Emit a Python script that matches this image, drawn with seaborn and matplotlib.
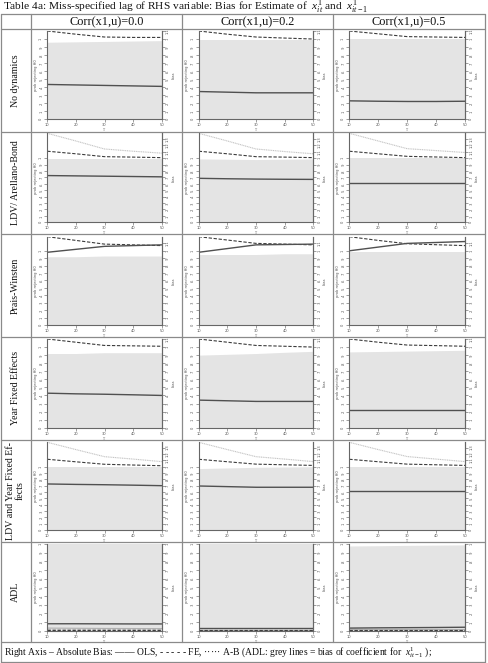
import matplotlib
matplotlib.use("Agg")
import matplotlib.pyplot as plt
import seaborn as sns
import numpy as np

sns.set_theme(style="white")
plt.rcParams['font.family'] = ['Liberation Serif', 'DejaVu Serif']
plt.rcParams['mathtext.fontset'] = 'custom'
plt.rcParams['mathtext.rm'] = 'Liberation Serif'
plt.rcParams['mathtext.it'] = 'Liberation Serif:italic'

# ---------------- data ----------------
T = [10, 20, 30, 40, 50]
col_labels = ["Corr(x1,u)=0.0", "Corr(x1,u)=0.2", "Corr(x1,u)=0.5"]
row_labels = ["No dynamics", "LDV/ Arellano-Bond", "Prais-Winsten",
              "Year Fixed Effects", "LDV and Year Fixed Ef-\nfects", "ADL"]

# left axis: prob rejecting H0 (grey area), one list per column
fill_nodyn = [[0.96, 0.965, 0.97, 0.975, 0.98], [0.99, 0.99, 0.99, 0.99, 0.99], [1.0, 1.0, 1.0, 1.0, 1.0]]
fill_ldv = [[0.99, 0.99, 0.99, 0.99, 0.99], [0.99, 0.985, 0.98, 0.985, 0.99], [1.0, 1.0, 1.0, 1.0, 1.0]]
fill_pw = [[0.92, 0.92, 0.93, 0.93, 0.93], [0.95, 0.95, 0.95, 0.96, 0.96], [0.99, 0.99, 0.99, 0.99, 0.99]]
fill_yfe = [[0.92, 0.92, 0.93, 0.93, 0.93], [0.90, 0.91, 0.92, 0.935, 0.947], [0.94, 0.945, 0.95, 0.955, 0.96]]
fill_ldvyfe = [[0.99, 0.99, 0.99, 0.99, 0.99], [0.97, 0.98, 0.99, 0.995, 1.0], [1.0, 1.0, 1.0, 1.0, 1.0]]
fill_adl = [[1.0, 1.0, 1.0, 1.0, 1.0], [1.0, 1.0, 1.0, 1.0, 1.0], [0.977, 0.98, 0.984, 0.987, 0.99]]

# right axis: absolute bias
ols_nodyn = [[0.434, 0.428, 0.422, 0.416, 0.41], [0.346, 0.338, 0.33, 0.33, 0.33], [0.23, 0.225, 0.222, 0.222, 0.225]]
fe_nodyn = [[1.10, 1.06, 1.025, 1.02, 1.02], [1.10, 1.06, 1.025, 1.012, 1.0], [1.10, 1.065, 1.03, 1.025, 1.02]]

ols_ldv = [[0.73, 0.725, 0.72, 0.715, 0.71], [0.687, 0.68, 0.675, 0.672, 0.67], [0.62, 0.62, 0.62, 0.62, 0.62]]
fe_ldv = [[1.11, 1.07, 1.025, 1.018, 1.01], [1.11, 1.07, 1.025, 1.018, 1.01], [1.11, 1.07, 1.03, 1.02, 1.01]]
ab_ldv = [[1.39, 1.27, 1.145, 1.11, 1.08], [1.39, 1.27, 1.145, 1.105, 1.07], [1.39, 1.27, 1.15, 1.12, 1.09]]

ols_pw = [[0.98, 1.02, 1.06, 1.07, 1.08], [0.98, 1.03, 1.08, 1.085, 1.09], [1.0, 1.05, 1.10, 1.112, 1.125]]
fe_pw = [[1.19, 1.14, 1.09, 1.08, 1.07], [1.19, 1.145, 1.10, 1.09, 1.08], [1.19, 1.14, 1.095, 1.082, 1.07]]

ols_yfe = [[0.428, 0.42, 0.415, 0.408, 0.40], [0.342, 0.334, 0.326, 0.326, 0.326], [0.215, 0.215, 0.215, 0.215, 0.215]]
fe_yfe = [[1.10, 1.06, 1.02, 1.015, 1.01], [1.10, 1.06, 1.02, 1.01, 1.0], [1.10, 1.06, 1.025, 1.018, 1.01]]

ols_ldvyfe = [[0.727, 0.72, 0.715, 0.708, 0.70], [0.695, 0.685, 0.675, 0.675, 0.675], [0.61, 0.61, 0.61, 0.61, 0.61]]
fe_ldvyfe = [[1.117, 1.077, 1.038, 1.026, 1.015], [1.117, 1.078, 1.04, 1.03, 1.02], [1.117, 1.078, 1.04, 1.03, 1.02]]
ab_ldvyfe = [[1.385, 1.27, 1.158, 1.12, 1.08], [1.385, 1.27, 1.158, 1.12, 1.08], [1.385, 1.27, 1.16, 1.12, 1.08]]

ols_adl = [[0.08, 0.08, 0.079, 0.078, 0.078], [0.03, 0.03, 0.03, 0.03, 0.03], [0.03, 0.033, 0.035, 0.037, 0.04]]
fe_adl = [[0.01, 0.01, 0.01, 0.01, 0.01], [0.004, 0.004, 0.004, 0.004, 0.004], [0.006, 0.006, 0.006, 0.006, 0.006]]
ols_adl_lag = [[0.03, 0.028, 0.026, 0.025, 0.024], [0.012, 0.012, 0.012, 0.012, 0.012], [0.014, 0.014, 0.014, 0.014, 0.014]]
fe_adl_lag = [[0.015, 0.015, 0.015, 0.015, 0.015], [0.008, 0.008, 0.008, 0.008, 0.008], [0.01, 0.01, 0.01, 0.01, 0.01]]

rows = [
    dict(fill=fill_nodyn, ols=ols_nodyn, fe=fe_nodyn, ab=None, top=1.10),
    dict(fill=fill_ldv, ols=ols_ldv, fe=fe_ldv, ab=ab_ldv, top=1.39),
    dict(fill=fill_pw, ols=ols_pw, fe=fe_pw, ab=None, top=1.19),
    dict(fill=fill_yfe, ols=ols_yfe, fe=fe_yfe, ab=None, top=1.10),
    dict(fill=fill_ldvyfe, ols=ols_ldvyfe, fe=fe_ldvyfe, ab=ab_ldvyfe, top=1.385),
    dict(fill=fill_adl, ols=ols_adl, fe=fe_adl, ab=None, top=1.0),
]

# ---------------- layout (pixels) ----------------
W, H = 488, 663
fig = plt.figure(figsize=(W / 100, H / 100), dpi=100)

col_lines = [1, 30.7, 182, 333, 485]
row_lines = [28.5, 132, 234, 337, 439.5, 542, 642]
ax_cols = [(47.3, 161.7), (198.7, 313.3), (349.3, 465)]
ax_rows = [(31, 119.3), (133.3, 222.3), (236.7, 325), (339, 427.7), (442.3, 530), (544, 630.7)]

bg = fig.add_axes([0, 0, 1, 1])
bg.set_xlim(0, W)
bg.set_ylim(H, 0)
bg.axis('off')
lc = '#8a8a8a'
# horizontal table lines
for y in [13.5] + row_lines + [662]:
    bg.plot([col_lines[0], col_lines[-1]], [y, y], color=lc, lw=0.9)
# vertical table lines
for x in col_lines:
    bg.plot([x, x], [13.5, 642 if x not in (col_lines[0], col_lines[-1]) else 662], color=lc, lw=0.9)

bg.text(3, 7.3, "Table 4a: Miss-specified lag of RHS variable: Bias for Estimate of  $x^1_{it}$ and  $x^1_{it-1}$",
        fontsize=8.2, va='center', ha='left', color='#111111')
for j, lab in enumerate(col_labels):
    bg.text((col_lines[j + 1] + col_lines[j + 2]) / 2, 22, lab, fontsize=8.8, ha='center', va='center', color='#111111')
for i, lab in enumerate(row_labels):
    bg.text(15.5, (row_lines[i] + row_lines[i + 1]) / 2, lab, fontsize=7.1, rotation=90,
            ha='center', va='center', multialignment='center', color='#111111', linespacing=1.05)
bg.text(4, 652.5, "Right Axis \u2013 Absolute Bias: \u2014\u2014 OLS, - - - - - FE, \u00b7\u00b7\u00b7\u00b7\u00b7 A-B (ADL: grey lines = bias of coefficient for  $x^1_{it-1}$ );",
        fontsize=6.9, va='center', ha='left', color='#111111')


def fmt(v):
    s = f"{v:.1f}"
    if s.startswith("0.") and s != "0.0":
        s = s[1:]
    if s == "0.0":
        s = "0"
    if s.endswith(".0"):
        s = s[:-2]
    return s


spc = '#666666'
for i, r in enumerate(rows):
    t0, b0 = ax_rows[i]
    for j in range(3):
        l0, r0 = ax_cols[j]
        ax = fig.add_axes([l0 / W, 1 - b0 / H, (r0 - l0) / W, (b0 - t0) / H])
        ax.set_facecolor('none')
        top = r['top']
        ax.fill_between(T, 0, r['fill'][j], color='#e4e4e4', lw=0)
        if r['ab'] is not None:
            sns.lineplot(x=T, y=r['ab'][j], ax=ax, color='#c4c4c4', lw=0.8, linestyle=(0, (1, 0.6)))
        if i == 5:
            sns.lineplot(x=T, y=ols_adl_lag[j], ax=ax, color='#b0b0b0', lw=0.8)
            sns.lineplot(x=T, y=fe_adl_lag[j], ax=ax, color='#b0b0b0', lw=0.8, linestyle=(0, (3, 1.5)))
        sns.lineplot(x=T, y=r['fe'][j], ax=ax, color='#3c3c3c', lw=0.8, linestyle=(0, (3, 1.5)))
        sns.lineplot(x=T, y=r['ols'][j], ax=ax, color='#505050', lw=1.0)
        ax.set_xlim(10, 50)
        ax.set_ylim(0, top)
        ax.set_xticks(T)
        ax.set_xticklabels([str(t) for t in T])
        lt = np.round(np.arange(0, 1.0001, 0.1), 1)
        ax.set_yticks(lt)
        ax.set_yticklabels([fmt(v) for v in lt], rotation=90, va='center')
        ax.tick_params(axis='both', which='both', length=2, width=0.4, pad=1,
                       labelsize=2.6, colors='#555555', left=True, bottom=True)
        for s in ['left', 'bottom', 'right']:
            ax.spines[s].set_color(spc)
            ax.spines[s].set_linewidth(0.8)
        ax.spines['top'].set_visible(False)
        ax.set_xlabel("T", fontsize=2.6, labelpad=0.5, color='#555555')
        ax.set_ylabel("prob rejecting H0", fontsize=2.6, labelpad=1, color='#555555', family='DejaVu Sans')
        ax2 = ax.twinx()
        ax2.set_ylim(0, top)
        rt = np.round(np.arange(0, top + 0.001, 0.1), 1)
        ax2.set_yticks(rt)
        ax2.set_yticklabels([fmt(v) for v in rt], rotation=90, va='center')
        ax2.tick_params(axis='y', length=2, width=0.4, pad=1, labelsize=2.6, colors='#555555', right=True)
        for s in ['left', 'bottom', 'top']:
            ax2.spines[s].set_visible(False)
        ax2.spines['right'].set_color(spc)
        ax2.spines['right'].set_linewidth(0.8)
        ax2.set_ylabel("bias", fontsize=2.6, labelpad=1, color='#555555', family='DejaVu Sans')
        for a in (ax, ax2):
            for lbl in a.get_xticklabels() + a.get_yticklabels():
                lbl.set_family('DejaVu Sans')
        ax.grid(False)
        ax2.grid(False)

fig.savefig("out.png", dpi=100)
